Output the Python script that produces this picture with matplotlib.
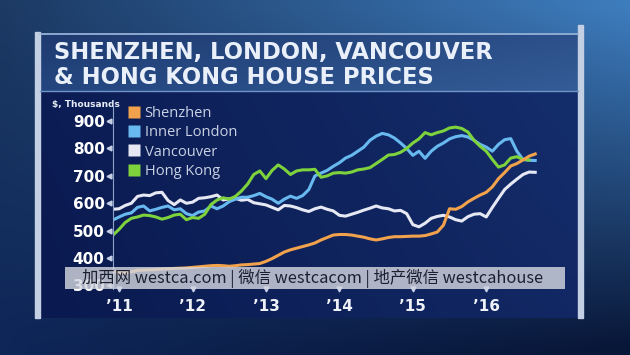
import numpy as np
import pandas as pd
import matplotlib
matplotlib.use('Agg')
import matplotlib.pyplot as plt
from matplotlib.patches import Rectangle
from matplotlib.lines import Line2D
import matplotlib.transforms as mtransforms

# monthly data, Dec 2010 - Sep 2016 ($ thousands)
months = pd.date_range('2010-12-01', periods=70, freq='MS')
years = months.year + (months.month - 1) / 12.0

shenzhen = [350, 348, 345, 350, 355, 356, 357, 358, 360, 361,
            362, 363, 364, 366, 368, 370, 372, 373, 372, 370,
            372, 375, 376, 378, 380, 388, 398, 410, 422, 430,
            436, 442, 448, 455, 466, 475, 484, 486, 486, 484,
            480, 476, 470, 466, 470, 475, 478, 478, 479, 480,
            480, 482, 488, 495, 520, 580, 578, 588, 605, 618,
            630, 640, 660, 690, 712, 736, 745, 758, 772, 780]
inner_london = [539, 550, 560, 565, 585, 590, 572, 578, 585, 590,
                576, 580, 562, 555, 568, 572, 590, 580, 590, 606,
                615, 622, 622, 628, 636, 624, 615, 600, 615, 626,
                618, 628, 650, 700, 710, 720, 735, 748, 765, 775,
                790, 805, 830, 845, 855, 850, 838, 820, 800, 775,
                790, 764, 790, 808, 820, 835, 843, 847, 842, 830,
                815, 805, 790, 815, 832, 836, 790, 760, 757, 756]
vancouver = [578, 580, 592, 600, 625, 630, 628, 638, 640, 610,
             595, 612, 600, 604, 618, 620, 624, 630, 612, 616,
             618, 611, 614, 602, 598, 594, 585, 576, 592, 590,
             584, 576, 570, 580, 586, 578, 572, 556, 553, 560,
             567, 575, 582, 590, 583, 580, 572, 574, 562, 522,
             514, 527, 545, 552, 556, 550, 540, 535, 551, 560,
             562, 550, 585, 618, 650, 670, 688, 705, 714, 713]
hong_kong = [484, 505, 530, 545, 550, 557, 555, 550, 542, 548,
             557, 560, 540, 548, 545, 560, 595, 612, 620, 615,
             625, 645, 670, 705, 718, 690, 720, 740, 725, 705,
             718, 722, 722, 724, 695, 700, 710, 712, 710, 714,
             722, 725, 730, 745, 760, 776, 778, 786, 800, 820,
             835, 858, 850, 858, 864, 875, 878, 873, 860, 830,
             808, 790, 760, 732, 740, 765, 770, 760, 758, np.nan]

series_names = ['Shenzhen', 'Inner London', 'Vancouver', 'Hong Kong']
series_colors = ['#f2a24c', '#68b9f0', '#e6e9f4', '#7ed23c']

year_ticks = [2011, 2012, 2013, 2014, 2015, 2016]
year_labels = ['\u201911', '\u201912', '\u201913', '\u201914', '\u201915', '\u201916']
value_ticks = [300, 400, 500, 600, 700, 800, 900]

title_lines = ['SHENZHEN, LONDON, VANCOUVER', '& HONG KONG HOUSE PRICES']
watermark = '加西网 westca.com | 微信 westcacom | 地产微信 westcahouse'

W, H = 630, 355
fig = plt.figure(figsize=(W / 100, H / 100), dpi=100)

# ---- backdrop, drawn in pixel coordinates
bg = fig.add_axes([0, 0, 1, 1])
bg.set_xlim(0, W)
bg.set_ylim(H, 0)
bg.axis('off')

def grad(c_tl, c_tr, c_bl, c_br, nx=64, ny=32):
    c_tl, c_tr, c_bl, c_br = [np.array(c) / 255.0 for c in (c_tl, c_tr, c_bl, c_br)]
    tx = np.linspace(0, 1, nx)[None, :, None]
    ty = np.linspace(0, 1, ny)[:, None, None]
    top = c_tl * (1 - tx) + c_tr * tx
    bot = c_bl * (1 - tx) + c_br * tx
    return top * (1 - ty) + bot * ty

bg.imshow(grad((28, 58, 100), (62, 125, 190), (14, 38, 88), (8, 22, 55)),
          extent=[0, W, H, 0], aspect='auto', interpolation='bicubic')
# title box
bg.imshow(grad((30, 58, 112), (44, 80, 138), (36, 70, 128), (52, 92, 150)),
          extent=[40, 578, 92, 33], aspect='auto', interpolation='bicubic')
bg.plot([40, 578], [33.5, 33.5], color='#9fbbe0', lw=1.2)
bg.plot([40, 578], [91, 91], color='#6f95c8', lw=1.0)
# chart panel
bg.imshow(grad((12, 28, 84), (20, 46, 108), (10, 26, 80), (18, 40, 100)),
          extent=[40, 578, 318, 92], aspect='auto', interpolation='bicubic')
# side bars
bg.add_patch(Rectangle((35, 32), 5, 286, color='#c3d0e4'))
bg.add_patch(Rectangle((578, 25), 5, 293, color='#c3d0e4'))

for i, line in enumerate(title_lines):
    bg.text(54, 58.5 + i * 25, line, fontsize=16.3, color='#eaf0fa',
            fontfamily='DejaVu Sans', fontweight='bold', va='baseline', ha='left')

bg.text(52, 105, '$, Thousands', fontsize=6.5, color='#e8ecf5',
        fontweight='bold', va='center', ha='left')

# ---- chart
x0, x1 = 113, 545
ytop, ybot = 100, 289
ax = fig.add_axes([x0 / W, 1 - ybot / H, (x1 - x0) / W, (ybot - ytop) / H])
ax.patch.set_alpha(0)
ax.set_xlim(2010 + 11 / 12, 2016.8)
ax.set_ylim(287, 977)

data = [shenzhen, inner_london, vancouver, hong_kong]
order = [2, 1, 3, 0]
for k in order:
    ax.plot(years, data[k], color=series_colors[k], lw=2.2, solid_joinstyle='round')

for s in ['top', 'right', 'bottom']:
    ax.spines[s].set_visible(False)
ax.spines['left'].set_color('#8ea2c8')
ax.spines['left'].set_linewidth(0.8)

ax.set_yticks(value_ticks)
ax.set_yticklabels([str(v) for v in value_ticks])
ax.set_xticks(year_ticks)
ax.set_xticklabels(year_labels)
ax.tick_params(axis='y', length=0, pad=6, labelsize=11, labelcolor='white')
ax.tick_params(axis='x', length=0, pad=7, labelsize=11, labelcolor='#eef2f8')
for lab in ax.get_yticklabels() + ax.get_xticklabels():
    lab.set_fontweight('bold')

# little triangle tick marks
ty = mtransforms.blended_transform_factory(ax.transAxes, ax.transData)
ax.plot([-4 / (x1 - x0)] * len(value_ticks), value_ticks, '<', ms=3.5,
        color='#c5d0e6', transform=ty, clip_on=False)
tx = mtransforms.blended_transform_factory(ax.transData, ax.transAxes)
ax.plot(year_ticks, [0.0] * len(year_ticks), 'v', ms=3.5,
        color='#c5d0e6', transform=tx, clip_on=False)

handles = [Line2D([], [], ls='none', marker='s', ms=8, mec='none', mfc=c)
           for c in series_colors]
leg = ax.legend(handles, series_names, loc='upper left',
                bbox_to_anchor=((122 - x0) / (x1 - x0), 1.0),
                frameon=False, labelspacing=0.3,
                handlelength=0.8, handletextpad=0.35, borderaxespad=0.0,
                prop={'family': 'Open Sans', 'size': 10.5})
for t in leg.get_texts():
    t.set_color('#c9d2e4')

# ---- watermark band on top
top = fig.add_axes([0, 0, 1, 1])
top.set_xlim(0, W)
top.set_ylim(H, 0)
top.axis('off')
top.add_patch(Rectangle((65, 267), 500, 22, facecolor='#d3d6de', alpha=0.82, edgecolor='none'))
top.text(313, 278.5, watermark, fontsize=11.8, color='#1b2030', ha='center', va='center',
         family=['Noto Sans CJK SC', 'DejaVu Sans'])

fig.savefig('out.png', dpi=100)
